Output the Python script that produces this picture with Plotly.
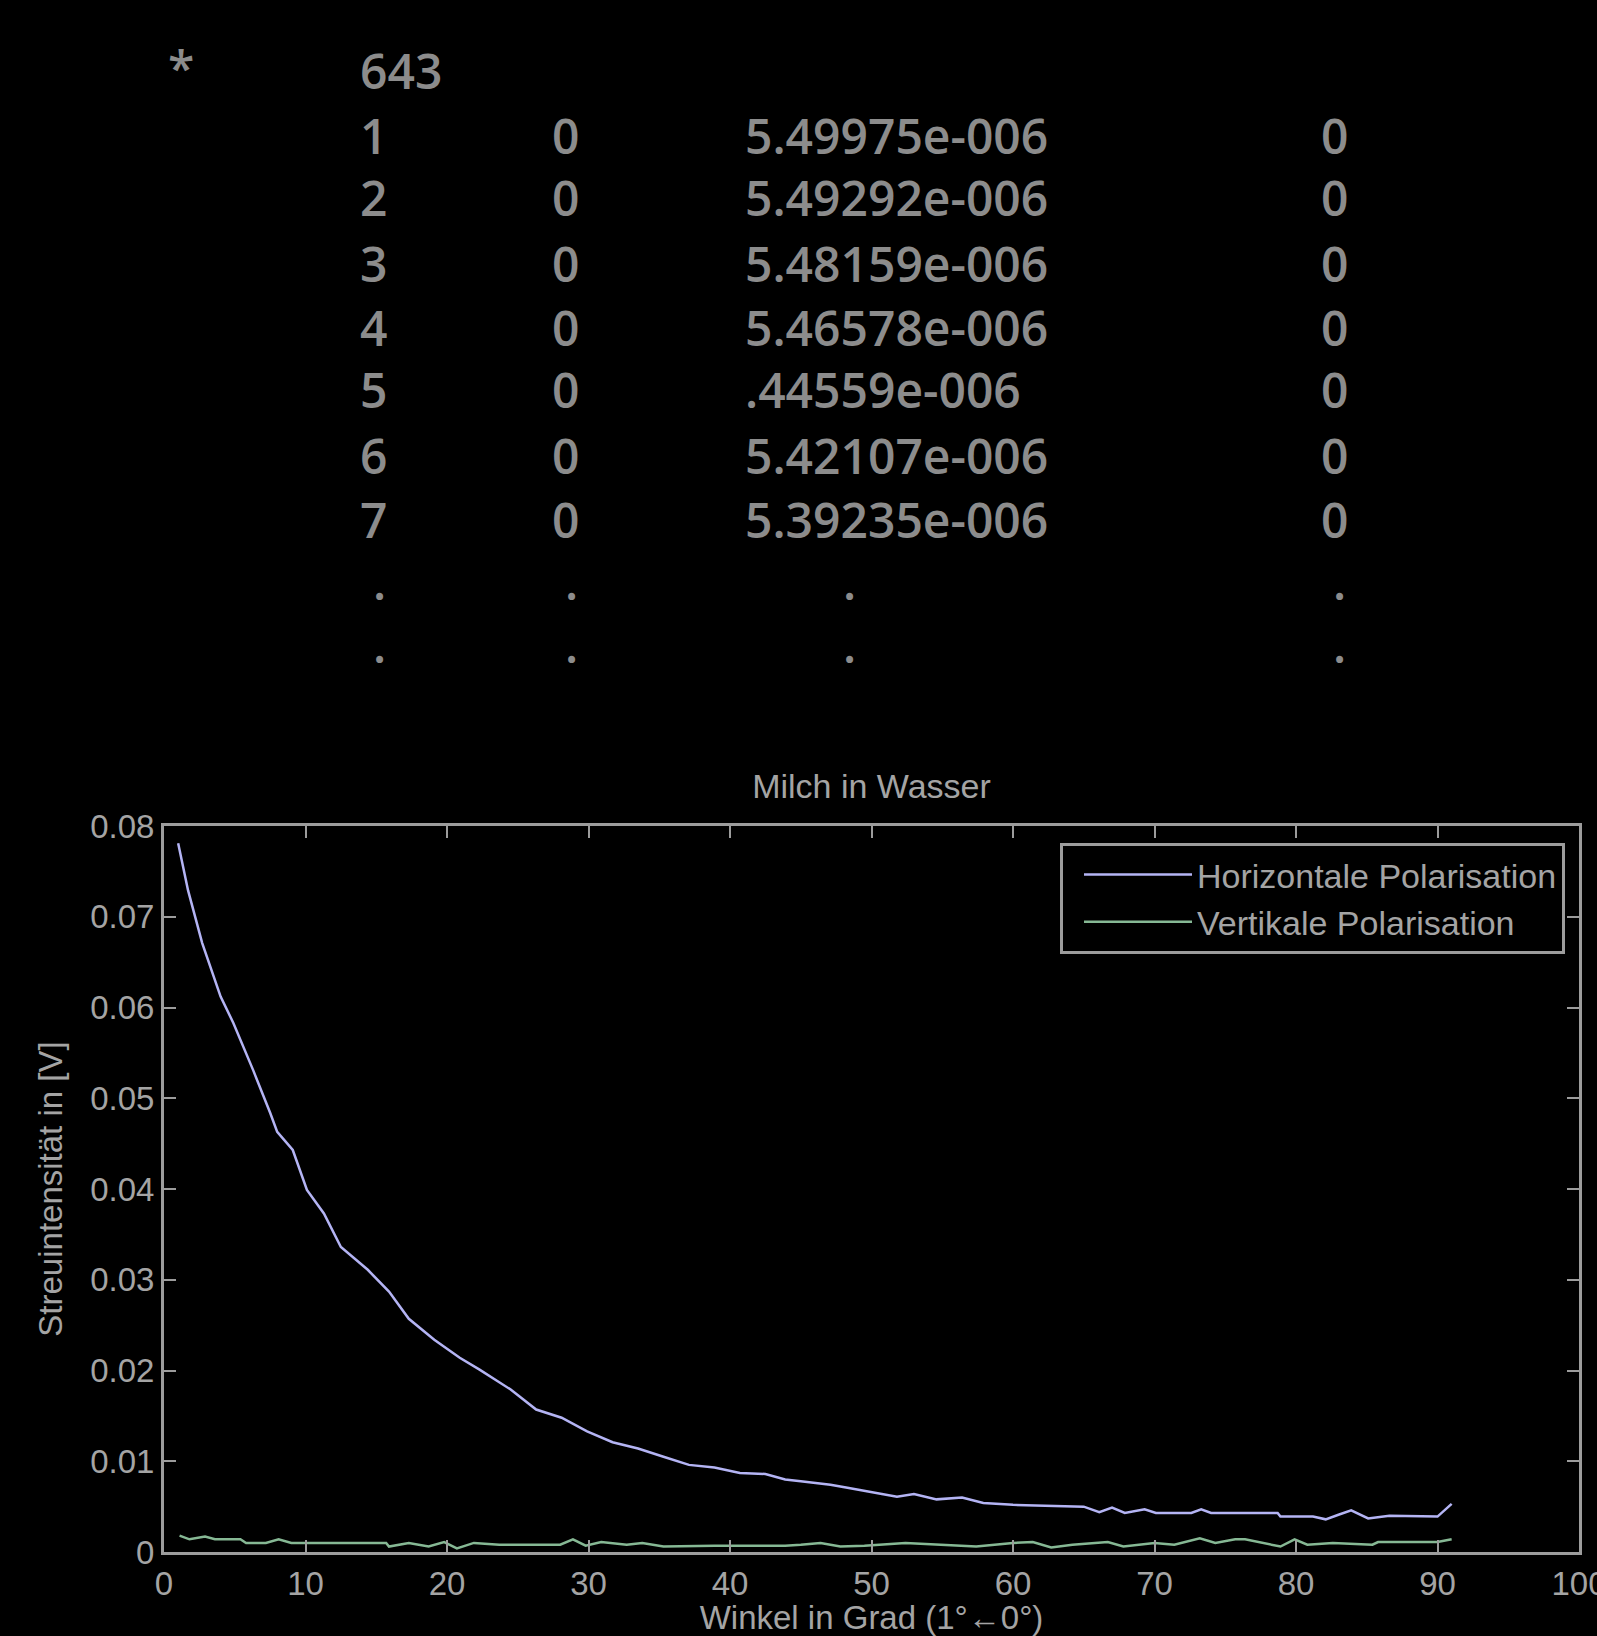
import plotly.graph_objects as go

# ---------------- data ----------------
table_header_mark = "*"
table_header_count = "643"
table_index = ["1", "2", "3", "4", "5", "6", "7"]
table_col2 = ["0", "0", "0", "0", "0", "0", "0"]
table_col3 = ["5.49975e-006", "5.49292e-006", "5.48159e-006", "5.46578e-006",
              ".44559e-006", "5.42107e-006", "5.39235e-006"]
table_col4 = ["0", "0", "0", "0", "0", "0", "0"]

chart_title = "Milch in Wasser"
x_title = "Winkel in Grad (1°←0°)"
y_title = "Streuintensität in [V]"
series_names = ["Horizontale Polarisation", "Vertikale Polarisation"]

x_ticks = [0, 10, 20, 30, 40, 50, 60, 70, 80, 90, 100]
y_ticks = [0, 0.01, 0.02, 0.03, 0.04, 0.05, 0.06, 0.07, 0.08]
y_tick_labels = ["0", "0.01", "0.02", "0.03", "0.04", "0.05", "0.06", "0.07", "0.08"]

x_h = [1.0, 1.7, 2.7, 4.0, 4.9, 6.3, 7.5, 8.0, 9.1, 10.1, 11.3, 12.5, 14.4, 15.9,
       17.3, 19.1, 20.9, 22.3, 24.5, 26.3, 28.1, 29.9, 31.7, 33.5, 35.3, 37.1, 38.9,
       40.7, 42.5, 43.9, 45.0, 47.1, 48.2, 50.0, 51.8, 53.0, 54.6, 56.4, 57.9, 60.0,
       62.2, 65.0, 66.1, 67.0, 67.9, 69.3, 70.1, 72.6, 73.3, 74.0, 78.7, 78.9, 81.2,
       82.1, 83.0, 83.9, 85.1, 86.6, 90.0, 91.0]
y_h = [0.0781, 0.0729, 0.0671, 0.0612, 0.0583, 0.0531, 0.0484, 0.0463, 0.0443, 0.0399,
       0.0373, 0.0336, 0.0311, 0.0287, 0.0257, 0.0234, 0.0214, 0.0201, 0.0179, 0.0157,
       0.0148, 0.0133, 0.0121, 0.0114, 0.0105, 0.0096, 0.0093, 0.0087, 0.0086, 0.0080,
       0.0078, 0.0074, 0.0071, 0.0066, 0.0061, 0.0064, 0.0058, 0.0060, 0.0054, 0.0052,
       0.0051, 0.0050, 0.0044, 0.0049, 0.0043, 0.0047, 0.0043, 0.0043, 0.0047, 0.0043,
       0.0043, 0.0039, 0.0039, 0.0036, 0.0041, 0.0046, 0.0037, 0.0040, 0.0039, 0.0053]

x_v = [1.1, 1.8, 2.9, 3.6, 5.4, 5.8, 7.2, 8.1, 9.0, 10.0, 15.7, 15.9, 17.3, 18.7, 19.8,
       20.7, 21.9, 23.7, 28.0, 28.9, 29.8, 30.9, 32.7, 33.8, 35.3, 38.9, 43.9, 45.0,
       46.4, 47.8, 49.5, 52.4, 54.6, 57.4, 60.0, 61.4, 62.7, 64.2, 66.7, 67.8, 70.0,
       71.4, 73.2, 74.3, 75.7, 76.4, 78.9, 79.9, 80.8, 82.6, 85.4, 85.8, 90.0, 91.0]
y_v = [0.0018, 0.0014, 0.0017, 0.0014, 0.0014, 0.0010, 0.0010, 0.0014, 0.0010, 0.0010,
       0.0010, 0.0006, 0.0010, 0.0006, 0.0011, 0.0004, 0.0010, 0.0008, 0.0008, 0.0014,
       0.0007, 0.0011, 0.0008, 0.0010, 0.0006, 0.0007, 0.0007, 0.0008, 0.0010, 0.0006,
       0.0007, 0.0010, 0.0008, 0.0006, 0.0010, 0.0011, 0.0005, 0.0008, 0.0011, 0.0006,
       0.0010, 0.0008, 0.0015, 0.0010, 0.0014, 0.0014, 0.0006, 0.0014, 0.0008, 0.0010,
       0.0008, 0.0011, 0.0011, 0.0014]

# ---------------- layout geometry ----------------
W, H = 1597, 1636
PL, PR, PT, PB = 164, 1579, 826, 1552   # plot area in pixels


def px(xp):
    return (xp - PL) / (PR - PL)


def py(yp):
    return (PB - yp) / (PB - PT)


AXIS = "#9c9c9c"
TXT = "#a4a4a4"
TABLE = "#8c8c8c"
CHART_FONT = "Liberation Sans"

fig = go.Figure()
fig.add_trace(go.Scatter(x=x_h, y=y_h, mode="lines", name=series_names[0],
                         line=dict(color="#b4b4f4", width=2.5)))
fig.add_trace(go.Scatter(x=x_v, y=y_v, mode="lines", name=series_names[1],
                         line=dict(color="#86b894", width=2.5)))

fig.update_layout(
    width=W, height=H,
    margin=dict(l=PL, r=W - PR, t=PT, b=H - PB, autoexpand=False),
    paper_bgcolor="black", plot_bgcolor="black",
    font=dict(family=CHART_FONT, color=TXT, size=33),
    title=dict(text=chart_title, x=0.5, xref="paper", xanchor="center",
               y=1 - 786 / H, yref="container", yanchor="middle",
               font=dict(family=CHART_FONT, size=34, color=TXT)),
    showlegend=True,
    legend=dict(x=px(1565), y=py(843), xanchor="right", yanchor="top",
                bgcolor="black", bordercolor=AXIS, borderwidth=3,
                font=dict(family=CHART_FONT, size=34, color=TXT),
                itemwidth=108, indentation=16, tracegroupgap=4),
)

fig.update_xaxes(range=[0, 100], tickvals=x_ticks, ticktext=[str(t) for t in x_ticks],
                 ticks="inside", ticklen=12, tickwidth=2, tickcolor=AXIS,
                 showline=True, linecolor=AXIS, linewidth=3, mirror="ticks",
                 showgrid=False, zeroline=False, ticklabeloverflow="allow",
                 automargin=False,
                 tickfont=dict(family=CHART_FONT, size=33, color=TXT),
                 title=dict(text=x_title, standoff=14,
                            font=dict(family=CHART_FONT, size=33, color=TXT)))
fig.update_yaxes(range=[0, 0.08], tickvals=y_ticks, ticktext=y_tick_labels,
                 ticks="inside", ticklen=12, tickwidth=2, tickcolor=AXIS,
                 showline=True, linecolor=AXIS, linewidth=3, mirror="ticks",
                 showgrid=False, zeroline=False, automargin=False,
                 tickfont=dict(family=CHART_FONT, size=33, color=TXT),
                 title=dict(text=y_title, standoff=18,
                            font=dict(family=CHART_FONT, size=33, color=TXT)))

# ---------------- text table above the chart ----------------
tfont = dict(family="Open Sans", size=48, color=TABLE, weight=600)
row_y = [135, 198, 263, 327, 390, 455, 519]
dot_y = [595, 658]


def txt(s, x, y, anchor):
    fig.add_annotation(text=s, x=px(x), y=py(y), xref="paper", yref="paper",
                       xanchor=anchor, yanchor="middle", showarrow=False, font=tfont)


txt(table_header_mark, 181, 67, "center")
txt(table_header_count, 358, 71, "left")
for i in range(len(table_index)):
    txt(table_index[i], 358, row_y[i], "left")
    txt(table_col2[i], 565, row_y[i], "center")
    txt(table_col3[i], 743, row_y[i], "left")
    txt(table_col4[i], 1334, row_y[i], "center")
for yy in dot_y:
    for xx in (379, 571, 849, 1339):
        txt(".", xx, yy - 14, "center")

fig.write_html("out.html", config={"displayModeBar": False},
               post_script="document.body.style.margin='0';document.body.style.overflow='hidden';")
